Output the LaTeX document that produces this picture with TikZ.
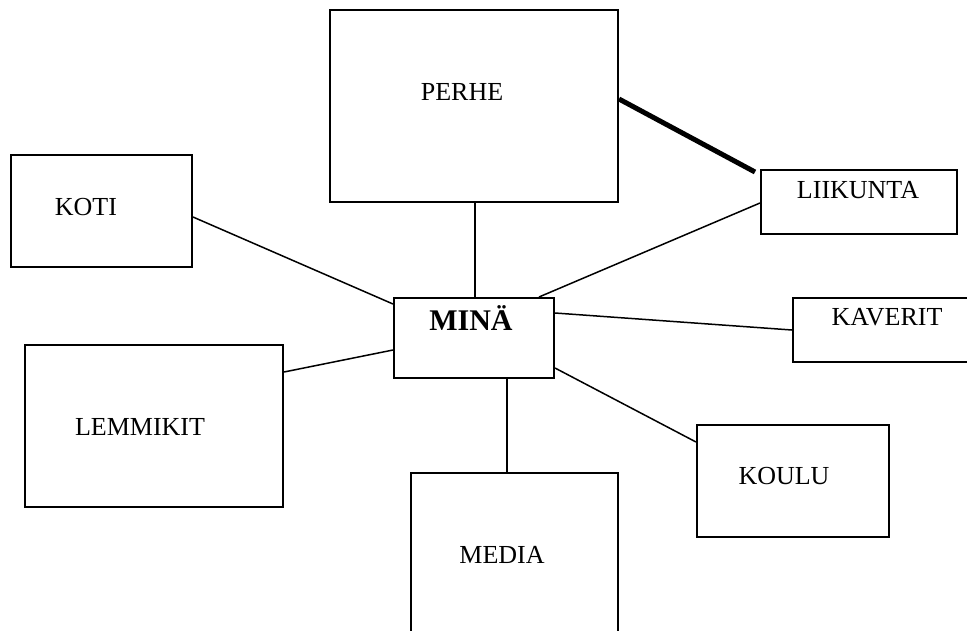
\documentclass[tikz,border=0pt]{standalone}
\usepackage{fontspec}
\setmainfont{Liberation Serif}
\usetikzlibrary{calc}
\begin{document}
\begin{tikzpicture}[x=1pt,y=-1pt,
  box/.style={draw=black,line width=2pt,inner sep=0pt,fill=white},
  lbl/.style={anchor=base,inner sep=0pt,font=\fontsize{26}{30}\selectfont},
  conn/.style={draw=black,line width=1.5pt},
  thickconn/.style={draw=black,line width=5pt}]
\clip (0,0) rectangle (967,630);
\fill[white] (0,0) rectangle (967,630);
% boxes
\node[box,minimum width=288pt,minimum height=192pt] (perhe) at (474,106) {};
\node[box,minimum width=181pt,minimum height=112pt] (koti) at (101.5,211) {};
\node[box,minimum width=196pt,minimum height=64pt] (liikunta) at (859,202) {};
\node[box,minimum width=160pt,minimum height=80pt] (mina) at (474,338) {};
\node[box,minimum width=188pt,minimum height=64pt] (kaverit) at (887,330) {};
\node[box,minimum width=258pt,minimum height=162pt] (lemmikit) at (154,426) {};
\node[box,minimum width=192pt,minimum height=112pt] (koulu) at (793,481) {};
\node[box,minimum width=207pt,minimum height=176pt] (media) at (514.5,561) {};
% labels
\node[lbl] (tperhe) at (462,100) {PERHE};
\node[lbl] (tkoti) at (86,215) {KOTI};
\node[lbl] (tliikunta) at (858,198) {LIIKUNTA};
\node[lbl,font=\fontsize{30}{34}\selectfont\bfseries] (tmina) at (471,330) {MINÄ};
\node[lbl] (tkaverit) at (887,325) {KAVERIT};
\node[lbl] (tlemmikit) at (140,435) {LEMMIKIT};
\node[lbl] (tkoulu) at (784,484) {KOULU};
\node[lbl] (tmedia) at (502,563) {MEDIA};
% helper coordinates
\coordinate (p1) at ([xshift=1pt]perhe.south);
\coordinate (m1) at ([xshift=33pt]mina.south);
\coordinate (k1) at ([yshift=-6pt]koti.east);
\coordinate (k2) at ([yshift=-7pt]mina.north west);
\coordinate (l1) at ([yshift=-28pt]lemmikit.north east);
\coordinate (l2) at ([yshift=-12pt]mina.west);
\coordinate (i1) at ([yshift=-1pt]liikunta.west);
\coordinate (i2) at ([xshift=-16pt]mina.north east);
\coordinate (v1) at ([yshift=25pt]mina.east);
\coordinate (s1) at ([yshift=-30pt]mina.east);
\coordinate (s2) at ([yshift=-18pt]koulu.north west);
\coordinate (h1) at ([yshift=7pt]perhe.east);
\coordinate (h2) at ([xshift=-5pt,yshift=-3pt]liikunta.north west);
% connectors
\draw[conn] (p1) -- (p1 |- mina.north);
\draw[conn] (m1) -- (m1 |- media.north);
\draw[conn] (k1) -- (k2);
\draw[conn] (l1) -- (l2);
\draw[conn] (i1) -- (i2);
\draw[conn] (v1) -- (kaverit.west);
\draw[conn] (s1) -- (s2);
\draw[thickconn] (h1) -- (h2);
\end{tikzpicture}
\end{document}
